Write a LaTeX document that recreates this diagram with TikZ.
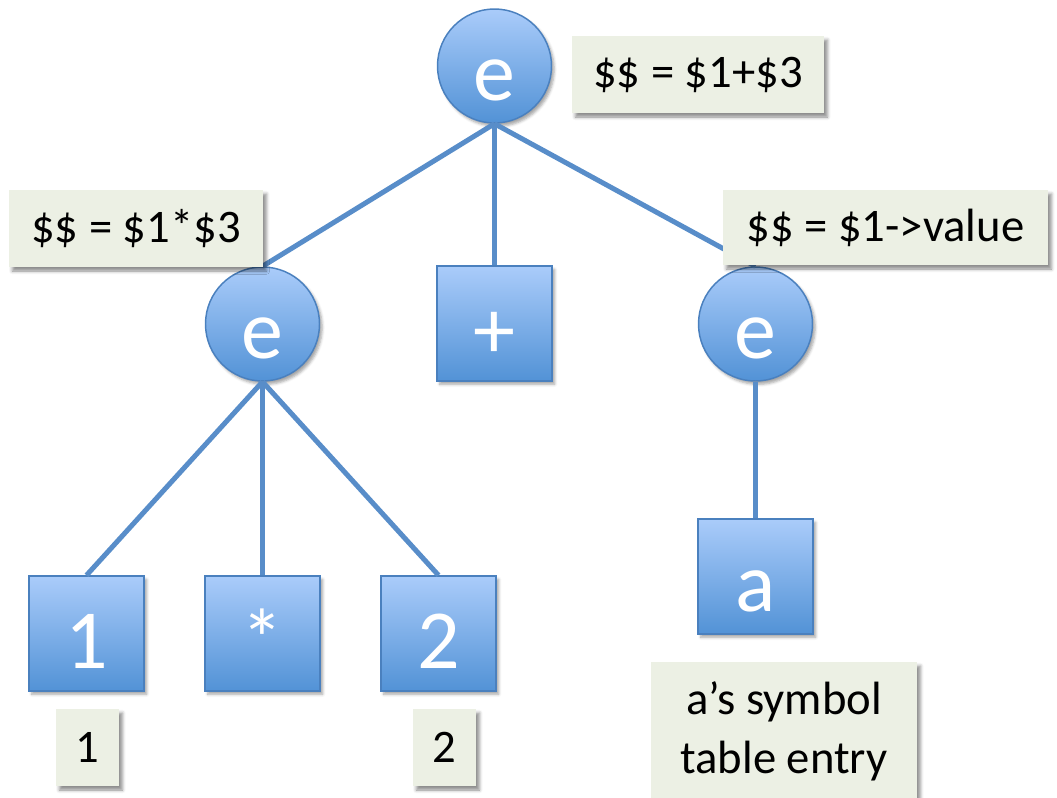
\documentclass[tikz,border=0pt]{standalone}
\usepackage{fontspec}
\setmainfont{Carlito}
\usetikzlibrary{shadows.blur}
\definecolor{nodetop}{RGB}{170,204,250}
\definecolor{nodebot}{RGB}{82,146,214}
\definecolor{nodeline}{RGB}{74,128,190}
\definecolor{edgecol}{RGB}{88,141,201}
\definecolor{notefill}{RGB}{236,240,228}
\tikzset{
  treebase/.style={draw=nodeline, line width=1.1pt, top color=nodetop, bottom color=nodebot,
    text=white, font=\fontsize{63}{63}\selectfont, inner sep=0pt,
    text height=52pt, text depth=0pt,
    blur shadow={shadow xshift=2pt, shadow yshift=-2.5pt, shadow blur radius=2pt, shadow opacity=35}},
  ecirc/.style={treebase, circle, minimum size=85.5pt},
  tbox/.style={treebase, rectangle, minimum width=86.25pt, minimum height=86.25pt},
  note/.style={rectangle, fill=notefill, inner sep=0pt, text=black,
    font=\fontsize{35}{44}\selectfont,
    blur shadow={shadow xshift=2.5pt, shadow yshift=-3pt, shadow blur radius=2.5pt, shadow opacity=45}},
  link/.style={draw=edgecol, line width=3.75pt}
}
\begin{document}
\begin{tikzpicture}[x=0.75pt, y=-0.75pt]
\useasboundingbox (0,0) rectangle (1057,797);
% parse tree nodes
\node[ecirc] (top) at (494.5,66) {e};
\node[ecirc] (le) at (262.5,324) {e};
\node[tbox] (plus) at (494.5,323.5) {+};
\node[ecirc] (re) at (755.5,324) {e};
\node[tbox] (one) at (86.5,633.5) {1};
\node[tbox] (star) at (262.5,633.5) {*};
\node[tbox] (two) at (438.5,633.5) {2};
\node[tbox] (a) at (755.5,576.5) {a};
% tree edges
\draw[link] (top.south) -- (le.north);
\draw[link] (top.south) -- (plus.north);
\draw[link] (top.south) -- (re.north);
\draw[link] (le.south) -- (one.north);
\draw[link] (le.south) -- (star.north);
\draw[link] (le.south) -- (two.north);
\draw[link] (re.south) -- (a.north);
% semantic action notes
\node[note, minimum width=189pt, minimum height=57.75pt] (n1) at (698,74.5) {\$\$ = \$1+\$3};
\node[note, minimum width=190.5pt, minimum height=57.75pt] (n2) at (136,228.5) {\$\$ = \$1*\$3};
\node[note, minimum width=243.75pt, minimum height=56.25pt] (n3) at (885.5,227.5) {\$\$ = \$1->value};
\node[note, minimum width=47.25pt, minimum height=57.75pt] (v1) at (87.5,747.5) {1};
\node[note, minimum width=47.25pt, minimum height=57.75pt] (v2) at (444.5,747.5) {2};
\node[note, minimum width=199.5pt, minimum height=103.5pt, align=center] (sym) at (784,731) {a’s symbol\\table entry};
\end{tikzpicture}
\end{document}
